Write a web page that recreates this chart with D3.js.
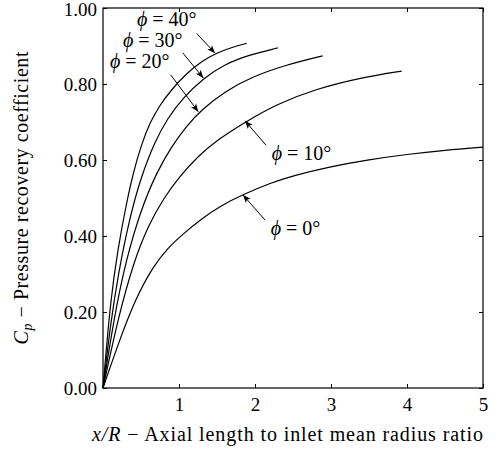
<html lang="en">
  <head>
    <meta charset="utf-8">
    <script src="https://d3js.org/d3.v7.min.js"></script>
    <style type="text/css">
body {
  margin: 0;
  background: white;
}
text {
  font-family: "Liberation Serif", "DejaVu Serif", serif;
  fill: black;
}
    </style>
  </head>
  <body>
    <div id="chart"></div>
    <script type="text/javascript">
const width = 502;
const height = 455;
const margin = {top: 8, right: 19, bottom: 67, left: 103};
const tickSize = 19;
const labelSize = 20;

// curves: [x/R, Cp]
const phi0 = [[0, 0], [0.2, 0.116], [0.42, 0.232], [0.66, 0.32], [0.85, 0.368], [1.05, 0.405],
  [1.3, 0.446], [1.55, 0.48], [1.84, 0.509], [2.2, 0.539], [2.5, 0.559], [3.0, 0.583],
  [3.5, 0.601], [4.0, 0.615], [4.5, 0.626], [5.0, 0.634]];
const phi10 = [[0, 0], [0.2, 0.185], [0.4, 0.33], [0.6, 0.43], [0.8, 0.50], [1.0, 0.555],
  [1.25, 0.61], [1.5, 0.652], [1.87, 0.700], [2.3, 0.748], [2.8, 0.787], [3.4, 0.817], [3.93, 0.834]];
const phi20 = [[0, 0], [0.15, 0.19], [0.3, 0.335], [0.5, 0.47], [0.7, 0.565], [0.9, 0.635],
  [1.1, 0.69], [1.3, 0.733], [1.6, 0.78], [1.95, 0.818], [2.4, 0.85], [2.89, 0.874]];
const phi30 = [[0, 0], [0.1, 0.17], [0.2, 0.30], [0.35, 0.448], [0.5, 0.555], [0.68, 0.648],
  [0.85, 0.71], [1.05, 0.763], [1.32, 0.815], [1.6, 0.852], [1.93, 0.877], [2.30, 0.895]];
const phi40 = [[0, 0], [0.1, 0.235], [0.2, 0.37], [0.3, 0.478], [0.4, 0.568], [0.5, 0.638],
  [0.62, 0.70], [0.75, 0.745], [0.9, 0.785], [1.1, 0.828], [1.3, 0.86], [1.5, 0.882],
  [1.7, 0.897], [1.89, 0.907]];

const angles = ["0", "10", "20", "30", "40"];
// label anchor (start, baseline), arrow tail, arrow tip, all in data units
const labelPos = [[2.207, 0.403], [2.22, 0.60], [0.092, 0.842], [0.263, 0.897], [0.447, 0.953]];
const arrowFrom = [[2.132, 0.442], [2.145, 0.639], [0.891, 0.824], [1.049, 0.882], [1.233, 0.933]];
const arrowTo = [[1.842, 0.508], [1.868, 0.703], [1.254, 0.727], [1.320, 0.816], [1.474, 0.881]];

const xTicks = [1, 2, 3, 4, 5];
const yTicks = [0, 0.2, 0.4, 0.6, 0.8, 1.0];

const series = [phi0, phi10, phi20, phi30, phi40];

let x = d3.scaleLinear()
  .domain([0, 5])
  .range([margin.left, width - margin.right]);

let y = d3.scaleLinear()
  .domain([0, 1])
  .range([height - margin.bottom, margin.top]);

let svg = d3.create("svg")
  .attr("width", width)
  .attr("height", height)
  .attr("viewBox", [0, 0, width, height]);

svg.append("defs").append("marker")
  .attr("id", "head")
  .attr("viewBox", "-9 -4 10 8")
  .attr("refX", 0)
  .attr("refY", 0)
  .attr("markerWidth", 10)
  .attr("markerHeight", 8)
  .attr("markerUnits", "userSpaceOnUse")
  .attr("orient", "auto")
  .append("path")
    .attr("d", "M0,0 L-8,-3.2 L-6,0 L-8,3.2 Z")
    .attr("fill", "black");

let styleAxis = g => g
  .call(g => g.select(".domain").remove())
  .call(g => g.selectAll(".tick line").attr("stroke", "black").attr("stroke-width", 1))
  .call(g => g.selectAll("text")
    .attr("font-family", null)
    .style("font-size", tickSize + "px"));

svg.append("g")
  .attr("transform", `translate(0,${y(0)})`)
  .call(d3.axisBottom(x).tickValues(xTicks).tickSizeInner(-4).tickSizeOuter(0).tickPadding(10)
    .tickFormat(d3.format("d")))
  .call(styleAxis);

svg.append("g")
  .attr("transform", `translate(0,${y(1)})`)
  .call(d3.axisTop(x).tickValues(xTicks).tickSizeInner(-4).tickSizeOuter(0).tickFormat(""))
  .call(styleAxis);

svg.append("g")
  .attr("transform", `translate(${x(0)},0)`)
  .call(d3.axisLeft(y).tickValues(yTicks).tickSizeInner(-4).tickSizeOuter(0).tickPadding(6)
    .tickFormat(d3.format(".2f")))
  .call(styleAxis)
  .call(g => g.select(".tick:last-of-type text").attr("dy", "0.4em"));

svg.append("g")
  .attr("transform", `translate(${x(5)},0)`)
  .call(d3.axisRight(y).tickValues(yTicks).tickSizeInner(-4).tickSizeOuter(0).tickFormat(""))
  .call(styleAxis);

svg.append("rect")
  .attr("x", x(0))
  .attr("y", y(1))
  .attr("width", x(5) - x(0))
  .attr("height", y(0) - y(1))
  .attr("fill", "none")
  .attr("stroke", "black")
  .attr("stroke-width", 1.2);

let line = d3.line()
  .x(d => x(d[0]))
  .y(d => y(d[1]))
  .curve(d3.curveBasis);

svg.append("g")
  .selectAll("path")
  .data(series)
  .join("path")
    .attr("fill", "none")
    .attr("stroke", "black")
    .attr("stroke-width", 1.2)
    .attr("d", line);

svg.append("g")
  .selectAll("line")
  .data(angles)
  .join("line")
    .attr("x1", (d, i) => x(arrowFrom[i][0]))
    .attr("y1", (d, i) => y(arrowFrom[i][1]))
    .attr("x2", (d, i) => x(arrowTo[i][0]))
    .attr("y2", (d, i) => y(arrowTo[i][1]))
    .attr("stroke", "black")
    .attr("stroke-width", 1)
    .attr("marker-end", "url(#head)");

let labels = svg.append("g")
  .selectAll("text")
  .data(angles)
  .join("text")
    .attr("x", (d, i) => x(labelPos[i][0]))
    .attr("y", (d, i) => y(labelPos[i][1]))
    .style("font-size", labelSize + "px");
labels.append("tspan").attr("font-style", "italic").text("\u03d5");
labels.append("tspan").text(d => ` = ${d}\u00b0`);

let xLabel = svg.append("text")
  .attr("x", 287.5)
  .attr("y", 441)
  .attr("text-anchor", "middle")
  .attr("textLength", 391)
  .attr("lengthAdjust", "spacing")
  .style("font-size", labelSize + "px");
xLabel.append("tspan").attr("font-style", "italic").text("x/R");
xLabel.append("tspan").text(" \u2212 Axial length to inlet mean radius ratio");

let yLabel = svg.append("text")
  .attr("transform", `translate(28,${(y(0) + y(1)) / 2}) rotate(-90)`)
  .attr("text-anchor", "middle")
  .attr("textLength", 293)
  .attr("lengthAdjust", "spacing")
  .style("font-size", labelSize + "px");
yLabel.append("tspan").attr("font-style", "italic").text("C");
yLabel.append("tspan").attr("font-style", "italic").attr("dy", 4).style("font-size", "14px").text("p");
yLabel.append("tspan").attr("dy", -4).text(" \u2212 Pressure recovery coefficient");

d3.select("#chart").append(() => svg.node());
    </script>
  </body>
</html>
